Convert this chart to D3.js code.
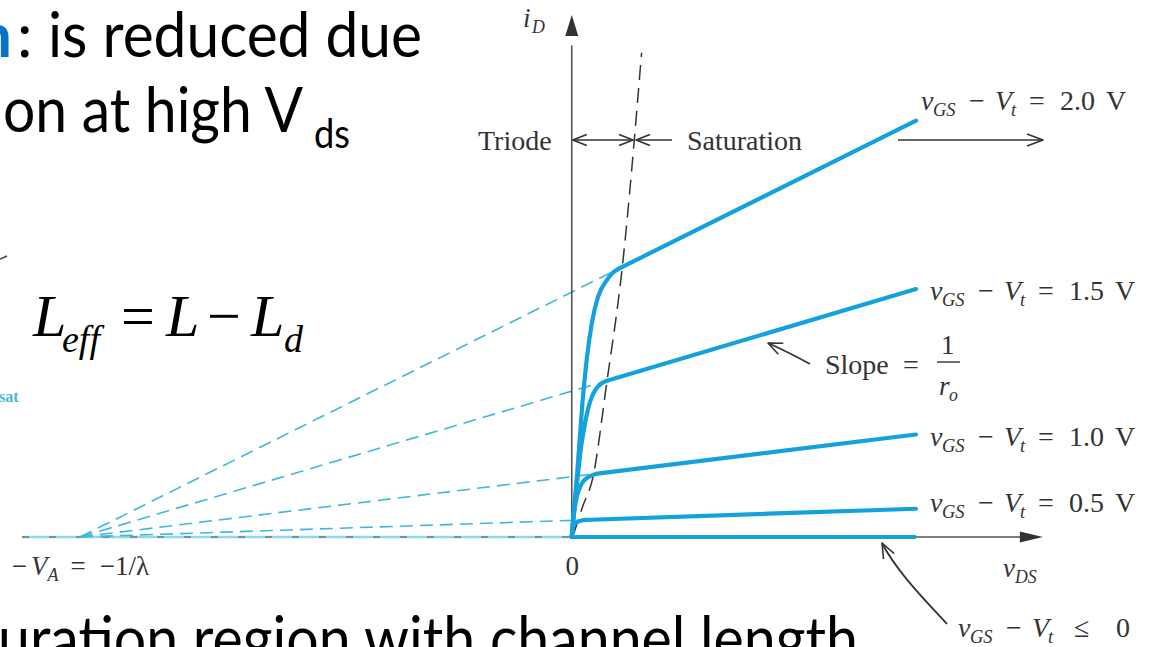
<!DOCTYPE html>
<html>
<head>
<meta charset="utf-8">
<script src="https://cdn.jsdelivr.net/npm/d3@7"></script>
<style>
  html, body { margin: 0; padding: 0; background: #fff; }
  svg { display: block; }
</style>
</head>
<body>
<svg id="chart" width="1157" height="647"></svg>
<script>
// ---- data: MOSFET iD–vDS curves with channel-length modulation ----
const overdrive = ["2.0", "1.5", "1.0", "0.5"];        // vGS − Vt of each curve (V)
const satEndCurrent = [3.98, 2.37, 0.98, 0.27];          // iD at the right end of each saturation line
const earlyIntercept = -10;                               // −VA = −1/λ, where the extrapolated lines meet
const satEndV = 7;                                        // vDS at the right end of the curves

// triode-region segments, origin up to where each curve joins its straight line
const triodeV20 = [0, 0.05, 0.11, 0.21, 0.31, 0.41, 0.53, 0.72, 0.82, 0.95];
const triodeI20 = [0, 0.28, 0.61, 1.24, 1.72, 2.05, 2.29, 2.46, 2.52, 2.564];
const triodeV15 = [0, 0.04, 0.09, 0.13, 0.19, 0.27, 0.34, 0.41, 0.5, 0.61, 0.75];
const triodeI15 = [0, 0.22, 0.45, 0.62, 0.86, 1.09, 1.24, 1.34, 1.42, 1.47, 1.499];
const triodeV10 = [0, 0.03, 0.065, 0.11, 0.17, 0.24, 0.31, 0.39, 0.47, 0.6];
const triodeI10 = [0, 0.16, 0.29, 0.40, 0.48, 0.535, 0.565, 0.585, 0.6, 0.611];
const triodeV05 = [0, 0.025, 0.06, 0.12, 0.2, 0.28, 0.4];
const triodeI05 = [0, 0.095, 0.125, 0.145, 0.157, 0.163, 0.165];

// triode / saturation boundary (vDS = vGS − Vt)
const edgeV = [0.04, 0.22, 0.43, 0.71, 1.02, 1.42];
const edgeI = [0.03, 0.29, 0.57, 1.47, 2.55, 4.63];

const xTickValues = [-10, 0];

// ---- layout ----
const svg = d3.select("#chart");
const serif = "'Liberation Serif', 'Times New Roman', serif";
const sans = "Lato, 'Open Sans', sans-serif";
const ink = "#333";
const axisInk = "#555";
const blue = "#14a2dc";
const dashBlue = "#3fb8dc";

const x = d3.scaleLinear().domain([-10, 7]).range([80, 916]);
const y = d3.scaleLinear().domain([0, 5]).range([537, 14]);

const triodeV = [triodeV20, triodeV15, triodeV10, triodeV05];
const triodeI = [triodeI20, triodeI15, triodeI10, triodeI05];
const series = overdrive.map((ov, k) => {
  const pts = triodeV[k].map((v, j) => [v, triodeI[k][j]]);
  return { ov, end: satEndCurrent[k], triode: pts, knee: pts[pts.length - 1] };
});

const line = d3.line().x(d => x(d[0])).y(d => y(d[1]));
const smooth = d3.line().x(d => x(d[0])).y(d => y(d[1])).curve(d3.curveMonotoneX);

function chevron(g, tx, ty, ang, len = 14, half = 5.5, color = ink) {
  const c = Math.cos(ang), s = Math.sin(ang);
  const p = (a, b) => [tx - a * c - b * s, ty - a * s + b * c];
  const p1 = p(len, half), p2 = p(len, -half);
  g.append("path")
    .attr("d", `M${p1[0]},${p1[1]}L${tx},${ty}L${p2[0]},${p2[1]}`)
    .attr("fill", "none").attr("stroke", color).attr("stroke-width", 1.6)
    .attr("stroke-linejoin", "round");
}
function filledHead(g, tx, ty, ang, len, half, color) {
  const c = Math.cos(ang), s = Math.sin(ang);
  const p = (a, b) => [tx - a * c - b * s, ty - a * s + b * c];
  const p1 = p(len, half), p2 = p(len, -half);
  g.append("path")
    .attr("d", `M${tx},${ty}L${p1[0]},${p1[1]}L${p2[0]},${p2[1]}Z`)
    .attr("fill", color);
}
// text made of positioned pieces (italics, subscripts)
function rich(g, x0, base, pieces, size = 27) {
  pieces.forEach(p => {
    g.append("text")
      .attr("x", x0 + p.dx)
      .attr("y", base + (p.sub ? 6 : 0))
      .attr("font-family", serif)
      .attr("font-size", p.sub ? size * 0.66 : size)
      .attr("font-style", p.it ? "italic" : "normal")
      .attr("fill", ink)
      .text(p.t);
  });
}

// ---- slide text around the figure ----
const slide = svg.append("g");
slide.append("text").attr("x", -23).attr("y", 57)
  .attr("font-family", sans).attr("font-size", 62).attr("font-weight", 700)
  .attr("fill", "#0a72c4").text("n");
slide.append("text").attr("x", 17).attr("y", 57)
  .attr("font-family", sans).attr("font-size", 62).attr("fill", "#000").text(":");
slide.append("text").attr("x", 48).attr("y", 57)
  .attr("font-family", sans).attr("font-size", 62).attr("fill", "#000")
  .attr("textLength", 374).attr("lengthAdjust", "spacingAndGlyphs")
  .text("is reduced due");
slide.append("text").attr("x", 3).attr("y", 132)
  .attr("font-family", sans).attr("font-size", 62).attr("fill", "#000")
  .attr("textLength", 300).attr("lengthAdjust", "spacingAndGlyphs")
  .text("on at high V");
slide.append("text").attr("x", 314).attr("y", 148)
  .attr("font-family", sans).attr("font-size", 40).attr("fill", "#000")
  .attr("textLength", 36).attr("lengthAdjust", "spacingAndGlyphs")
  .text("ds");
slide.append("text").attr("x", -2).attr("y", 661)
  .attr("font-family", sans).attr("font-size", 62).attr("fill", "#000")
  .attr("textLength", 860).attr("lengthAdjust", "spacingAndGlyphs")
  .text("uration region with channel length");

// equation L_eff = L − L_d
const eq = [
  { t: "L", dx: 33, it: 1 }, { t: "eff", dx: 62, it: 1, sub: 1 },
  { t: "=", dx: 121 }, { t: "L", dx: 166, it: 1 }, { t: "−", dx: 207 },
  { t: "L", dx: 251, it: 1 }, { t: "d", dx: 284, it: 1, sub: 1 }
];
eq.forEach(p => {
  slide.append("text").attr("x", p.dx).attr("y", p.sub ? 352 : 336)
    .attr("font-family", serif).attr("font-size", p.sub ? 38 : 60)
    .attr("font-style", p.it ? "italic" : "normal").attr("fill", "#000").text(p.t);
});
slide.append("text").attr("x", -1).attr("y", 402)
  .attr("font-family", serif).attr("font-size", 16).attr("font-weight", 700)
  .attr("fill", "#48bcd2").text("sat");
slide.append("path").attr("d", "M0,259L7,256").attr("stroke", "#444").attr("stroke-width", 1.5);

// ---- chart ----
const g = svg.append("g");

// negative vDS side of the axis: the vGS − Vt ≤ 0 line extended, with the axis dashes over it
g.append("path").attr("d", line([[-11.18, 0], [0, 0]]))
  .attr("stroke", "#8ed9ef").attr("stroke-width", 2.5).attr("fill", "none");
g.append("path").attr("d", line([[-11.18, 0], [0, 0]]))
  .attr("stroke", "#777").attr("stroke-width", 1.5).attr("stroke-dasharray", "7,20")
  .attr("fill", "none");

// extrapolated saturation lines meeting at −VA
series.forEach(s => {
  g.append("path").attr("d", line([[earlyIntercept, 0], s.knee]))
    .attr("stroke", dashBlue).attr("stroke-width", 1.6)
    .attr("stroke-dasharray", "13,7").attr("fill", "none");
});

// axes
g.append("path").attr("d", line([[0, 0], [9.2, 0]]))
  .attr("stroke", axisInk).attr("stroke-width", 1.6).attr("fill", "none");
filledHead(g, x(9.58), y(0), 0, 23, 5.5, "#333");
g.append("path").attr("d", line([[0, 0], [0, 4.7]]))
  .attr("stroke", axisInk).attr("stroke-width", 1.6).attr("fill", "none");
filledHead(g, x(0), y(4.99), -Math.PI / 2, 21, 6.5, "#333");

// tick labels on the vDS axis
const xAxis = d3.axisBottom(x).tickValues(xTickValues).tickSize(0).tickPadding(0).tickFormat("");
const axG = g.append("g").attr("transform", `translate(0,${y(0)})`).call(xAxis);
axG.select(".domain").remove();
axG.selectAll(".tick text").each(function (d) {
  const t = d3.select(this)
    .attr("y", 38).attr("dy", null)
    .attr("font-family", serif).attr("font-size", 27).attr("fill", ink)
    .attr("text-anchor", "middle");
  if (d === 0) {
    t.text("0");
  } else {
    t.append("tspan").text("−");
    t.append("tspan").attr("dx", 4).attr("font-style", "italic").text("V");
    t.append("tspan").attr("dy", 6).attr("font-size", 18).attr("font-style", "italic").text("A");
    t.append("tspan").attr("dy", -6).attr("dx", 12).text("=");
    t.append("tspan").attr("dx", 14).text("−1/λ");
  }
});

// triode / saturation boundary
g.append("path").attr("d", smooth(edgeV.map((v, j) => [v, edgeI[j]])))
  .attr("stroke", "#333").attr("stroke-width", 1.5)
  .attr("stroke-dasharray", "15,8").attr("fill", "none");

// the iD–vDS curves
series.forEach(s => {
  g.append("path").attr("d", smooth(s.triode))
    .attr("stroke", blue).attr("stroke-width", 4.2).attr("fill", "none")
    .attr("stroke-linecap", "round");
  g.append("path").attr("d", line([s.knee, [satEndV, s.end]]))
    .attr("stroke", blue).attr("stroke-width", 4.2).attr("fill", "none")
    .attr("stroke-linecap", "round");
});
g.append("path").attr("d", line([[0, 0], [satEndV, 0]]))
  .attr("stroke", blue).attr("stroke-width", 4.2).attr("fill", "none");

// axis names
rich(g, 523, 27, [{ t: "i", dx: 0, it: 1 }, { t: "D", dx: 9, it: 1, sub: 1 }]);
rich(g, 1003, 577, [{ t: "v", dx: 0, it: 1 }, { t: "DS", dx: 12, it: 1, sub: 1 }]);

// Triode ↔ | ← Saturation
const ty = 140;
rich(g, 478, 150, [{ t: "Triode", dx: 0 }], 28);
g.append("path").attr("d", `M${x(0) + 1},${ty}L${633},${ty}`).attr("stroke", ink).attr("stroke-width", 1.6);
chevron(g, x(0) + 1, ty, Math.PI);
chevron(g, 633, ty, 0);
g.append("path").attr("d", `M${672},${ty}L${636},${ty}`).attr("stroke", ink).attr("stroke-width", 1.6);
chevron(g, 636, ty, Math.PI);
rich(g, 687, 150, [{ t: "Saturation", dx: 0 }], 28);

// curve labels
const labelStart = [921, 930, 930, 930];
const labelBase = [110, 300, 446, 512];
series.forEach((s, k) => {
  rich(g, labelStart[k], labelBase[k], [
    { t: "v", dx: 0, it: 1 }, { t: "GS", dx: 12, it: 1, sub: 1 },
    { t: "−", dx: 48 }, { t: "V", dx: 74, it: 1 }, { t: "t", dx: 90, it: 1, sub: 1 },
    { t: "=", dx: 108 }, { t: s.ov, dx: 139 }, { t: "V", dx: 185 }
  ], 28);
});
rich(g, 958, 637, [
  { t: "v", dx: 0, it: 1 }, { t: "GS", dx: 12, it: 1, sub: 1 },
  { t: "−", dx: 48 }, { t: "V", dx: 74, it: 1 }, { t: "t", dx: 90, it: 1, sub: 1 },
  { t: "≤", dx: 116 }, { t: "0", dx: 158 }
], 28);

// arrow under the top label
g.append("path").attr("d", `M898,${ty}L1043,${ty}`).attr("stroke", ink).attr("stroke-width", 1.6);
chevron(g, 1043, ty, 0, 16, 6);

// Slope = 1 / r_o
rich(g, 825, 374, [{ t: "Slope", dx: 0 }, { t: "=", dx: 78 }], 28);
rich(g, 941, 354, [{ t: "1", dx: 0 }]);
g.append("path").attr("d", "M937,362L960,362").attr("stroke", ink).attr("stroke-width", 1.4);
rich(g, 939, 395, [{ t: "r", dx: 0, it: 1 }, { t: "o", dx: 10, it: 1, sub: 1 }]);
g.append("path").attr("d", "M810,364Q788,352 768,343").attr("stroke", ink)
  .attr("stroke-width", 1.8).attr("fill", "none");
chevron(g, 768, 343, Math.atan2(343 - 352, 768 - 788), 14, 6);

// pointer to the vGS − Vt ≤ 0 curve
g.append("path").attr("d", "M947,624C925,600 897,572 882,543").attr("stroke", ink)
  .attr("stroke-width", 1.8).attr("fill", "none");
chevron(g, 882, 543, Math.atan2(543 - 572, 882 - 897), 15, 6);
</script>
</body>
</html>
